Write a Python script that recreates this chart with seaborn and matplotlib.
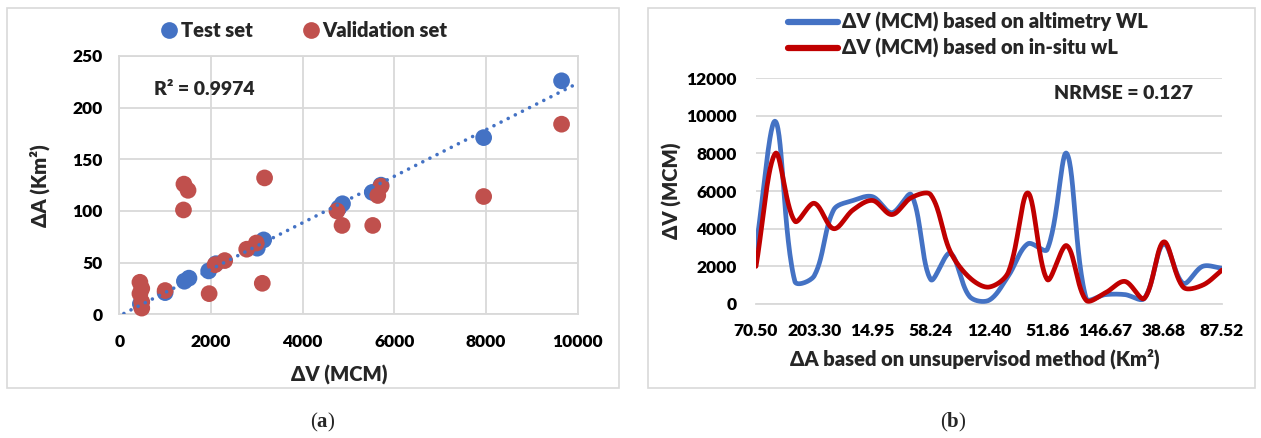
import numpy as np
import pandas as pd
import matplotlib
matplotlib.use('Agg')
import matplotlib.pyplot as plt
from matplotlib.patches import Rectangle
import seaborn as sns

sns.set_style('white')
plt.rcParams['font.family'] = ['Lato', 'DejaVu Sans']
plt.rcParams['font.weight'] = 'heavy'
plt.rcParams['mathtext.fontset'] = 'custom'
plt.rcParams['mathtext.bf'] = 'Liberation Serif:bold'
plt.rcParams['mathtext.rm'] = 'Liberation Serif'
FW = 'heavy'

# (a) 散点: ΔV (MCM) 与 ΔA (Km²)
test_dv = [9650, 7950, 5520, 5710, 4870, 4790, 3150, 3010, 2110, 1950, 1520, 1420, 1000, 460]
test_da = [226, 171, 118, 125, 107, 103, 72, 64, 49, 42, 35, 32, 21, 10]
val_dv = [9650, 7950, 5640, 5710, 5530, 4750, 4860, 3170, 3120, 2990, 2780, 2300, 2090,
          1960, 1500, 1410, 1400, 1000, 450, 490, 450, 490, 490]
val_da = [184, 114, 115, 124, 86, 100, 86, 132, 30, 69, 63, 52, 48,
          20, 120, 126, 101, 23, 31, 25, 20, 12, 6]
r2_text = 'R² = 0.9974'
trend_forecast = 360

# (b) 折线: 每个类别的 ΔV
dv_altimetry = [3000, 9700, 1200, 1500, 5000, 5500, 5700, 4850, 5800, 1300, 2700, 400, 200,
                1500, 3200, 2900, 8000, 300, 500, 500, 300, 3200, 1100, 2000, 1900]
dv_insitu = [2000, 8000, 4400, 5350, 4000, 5000, 5500, 4750, 5650, 5800, 2800, 1400, 900,
             1700, 5900, 1300, 3100, 200, 600, 1200, 300, 3300, 900, 1000, 1800]
x_tick_labels = ['70.50', '203.30', '14.95', '58.24', '12.40', '51.86', '146.67', '38.68', '87.52']
label_step = 3
nrmse_text = 'NRMSE = 0.127'

blue = '#4472C4'
red_pt = '#C0504D'
red_line = '#C00000'
grid_c = '#D9D9D9'

W, H = 1261, 438
# 右图坐标区 (像素)
ax2_box = (756, 78.1, 1222, 304)


def excel_smooth(y, sx, sy, n=30):
    # Excel 平滑线: 贝塞尔曲线, 控制点按屏幕上相邻线段长度分配
    y = np.asarray(y, float)
    x = np.arange(len(y), dtype=float)
    P = np.column_stack([x * sx, y * sy])
    m = len(P)
    fwd = np.zeros_like(P)
    bwd = np.zeros_like(P)
    for i in range(m):
        prv = P[i - 1] if i > 0 else P[i]
        nxt = P[i + 1] if i < m - 1 else P[i]
        d0 = np.hypot(*(P[i] - prv))
        d1 = np.hypot(*(nxt - P[i]))
        tot = d0 + d1 if d0 + d1 > 0 else 1
        fwd[i] = P[i] + (nxt - prv) * d1 / tot / 3
        bwd[i] = P[i] - (nxt - prv) * d0 / tot / 3
    t = np.linspace(0, 1, n, endpoint=False)[:, None]
    out = []
    for i in range(m - 1):
        p0, p1, p2, p3 = P[i], fwd[i], bwd[i + 1], P[i + 1]
        out.append((1 - t) ** 3 * p0 + 3 * (1 - t) ** 2 * t * p1 + 3 * (1 - t) * t ** 2 * p2 + t ** 3 * p3)
    out.append(P[-1:])
    out = np.vstack(out)
    return out[:, 0] / sx, out[:, 1] / sy


fig = plt.figure(figsize=(W / 100, H / 100), dpi=100)

# 面板外框
for x0, x1 in [(7, 619), (648, 1255)]:
    fig.add_artist(Rectangle((x0 / W, 1 - 388 / H), (x1 - x0) / W, (388 - 8) / H,
                             transform=fig.transFigure, fill=False, edgecolor=grid_c, lw=1.2))

# ---------- (a) ----------
ax1 = fig.add_axes([119.3 / W, 1 - 314.3 / H, (577.6 - 119.3) / W, (314.3 - 56) / H])
df_sc = pd.DataFrame({
    'dv': test_dv + val_dv,
    'da': test_da + val_da,
    'set': ['Test set'] * len(test_dv) + ['Validation set'] * len(val_dv),
})
sns.scatterplot(data=df_sc, x='dv', y='da', hue='set', palette={'Test set': blue, 'Validation set': red_pt},
                s=145, edgecolor='none', alpha=1, ax=ax1, clip_on=False, zorder=3)

coef = np.polyfit(test_dv, test_da, 1)
tx = np.linspace(min(test_dv) - trend_forecast, max(test_dv) + trend_forecast, 50)
ax1.plot(tx, np.polyval(coef, tx), color=blue, lw=2.6, linestyle=(0, (0.01, 2.2)),
         dash_capstyle='round', zorder=4)

ax1.set_xlim(0, 10000)
ax1.set_ylim(0, 250)
ax1.set_xticks(range(0, 10001, 2000))
ax1.set_yticks(range(0, 251, 50))
ax1.grid(True, color=grid_c, lw=1.3)
ax1.set_axisbelow(True)
for sp in ax1.spines.values():
    sp.set_color(grid_c)
    sp.set_linewidth(1.3)
ax1.tick_params(length=0, labelsize=12.5, pad=12, colors='black')
ax1.tick_params(axis='x', pad=14)
for lab in ax1.get_xticklabels() + ax1.get_yticklabels():
    lab.set_fontweight(FW)
ax1.set_xlabel('ΔV (MCM)', fontsize=14.5, fontweight=FW)
ax1.xaxis.set_label_coords(0.48, -0.195)
ax1.set_ylabel('ΔA (Km²)', fontsize=14.5, fontweight=FW)
ax1.yaxis.set_label_coords(-0.151, 0.5)
ax1.text(0.075, 0.87, r2_text, transform=ax1.transAxes, fontsize=14, fontweight=FW, va='center')
leg1 = ax1.legend(loc='center', bbox_to_anchor=(0.404, 1.10), ncol=2, frameon=False,
                  fontsize=14.5, handlelength=0.8, handletextpad=0.2, columnspacing=2.45,
                  markerscale=1.0)
for txt in leg1.get_texts():
    txt.set_fontweight(FW)

# ---------- (b) ----------
ax2 = fig.add_axes([ax2_box[0] / W, 1 - ax2_box[3] / H, (ax2_box[2] - ax2_box[0]) / W,
                    (ax2_box[3] - ax2_box[1]) / H])
n = len(dv_altimetry)
ymax = 12000
sx = (ax2_box[2] - ax2_box[0]) / (n - 1)
sy = (ax2_box[3] - ax2_box[1]) / ymax
xa, ya = excel_smooth(dv_altimetry, sx, sy)
xb, yb = excel_smooth(dv_insitu, sx, sy)
name_a = 'ΔV (MCM) based on altimetry WL'
name_b = 'ΔV (MCM) based on in-situ wL'
df_ln = pd.DataFrame({
    'pos': np.concatenate([xa, xb]),
    'dv': np.concatenate([ya, yb]),
    'series': [name_a] * len(xa) + [name_b] * len(xb),
})
sns.lineplot(data=df_ln, x='pos', y='dv', hue='series', palette={name_a: blue, name_b: red_line},
             sort=False, estimator=None, lw=3.4, ax=ax2, zorder=3)

ax2.set_xlim(0, n - 1)
ax2.set_ylim(0, ymax)
ax2.set_yticks(range(0, ymax + 1, 2000))
ax2.set_xticks(range(0, n, label_step))
ax2.set_xticklabels(x_tick_labels)
ax2.set_xticks(np.arange(0.5, n - 1, 1), minor=True)
ax2.grid(True, axis='y', color=grid_c, lw=1.3)
ax2.set_axisbelow(True)
for k in ['left', 'right', 'top']:
    ax2.spines[k].set_visible(False)
ax2.spines['bottom'].set_color(grid_c)
ax2.spines['bottom'].set_linewidth(1.3)
ax2.tick_params(axis='x', which='major', length=0, pad=14, labelsize=12.5, colors='black')
ax2.tick_params(axis='x', which='minor', length=8, width=1.2, direction='inout', color=grid_c)
ax2.tick_params(axis='y', length=0, pad=14, labelsize=12.5, colors='black')
for lab in ax2.get_xticklabels() + ax2.get_yticklabels():
    lab.set_fontweight(FW)
ax2.set_xlabel('ΔA based on unsupervisod method (Km²)', fontsize=14.5, fontweight=FW)
ax2.xaxis.set_label_coords(0.47, -0.198)
ax2.set_ylabel('ΔV (MCM)', fontsize=14.5, fontweight=FW)
ax2.yaxis.set_label_coords(-0.159, 0.5)
ax2.text(0.938, 0.93, nrmse_text, transform=ax2.transAxes, fontsize=14, fontweight=FW,
         ha='right', va='center')
leg2 = ax2.legend(loc='center', bbox_to_anchor=(0.455, 1.19), ncol=1, frameon=False, fontsize=14.5,
                  handlelength=2.5, handletextpad=0.2, labelspacing=0.3)
for txt in leg2.get_texts():
    txt.set_fontweight(FW)
for ln in leg2.get_lines():
    ln.set_linewidth(4.5)

# 子图标号
fig.text(323 / W, 1 - 422 / H, r'($\mathbf{a}$)', ha='center', va='center', fontsize=15,
         family='Liberation Serif', fontweight='normal')
fig.text(953 / W, 1 - 422 / H, r'($\mathbf{b}$)', ha='center', va='center', fontsize=15,
         family='Liberation Serif', fontweight='normal')

fig.savefig('out.png', dpi=100)
